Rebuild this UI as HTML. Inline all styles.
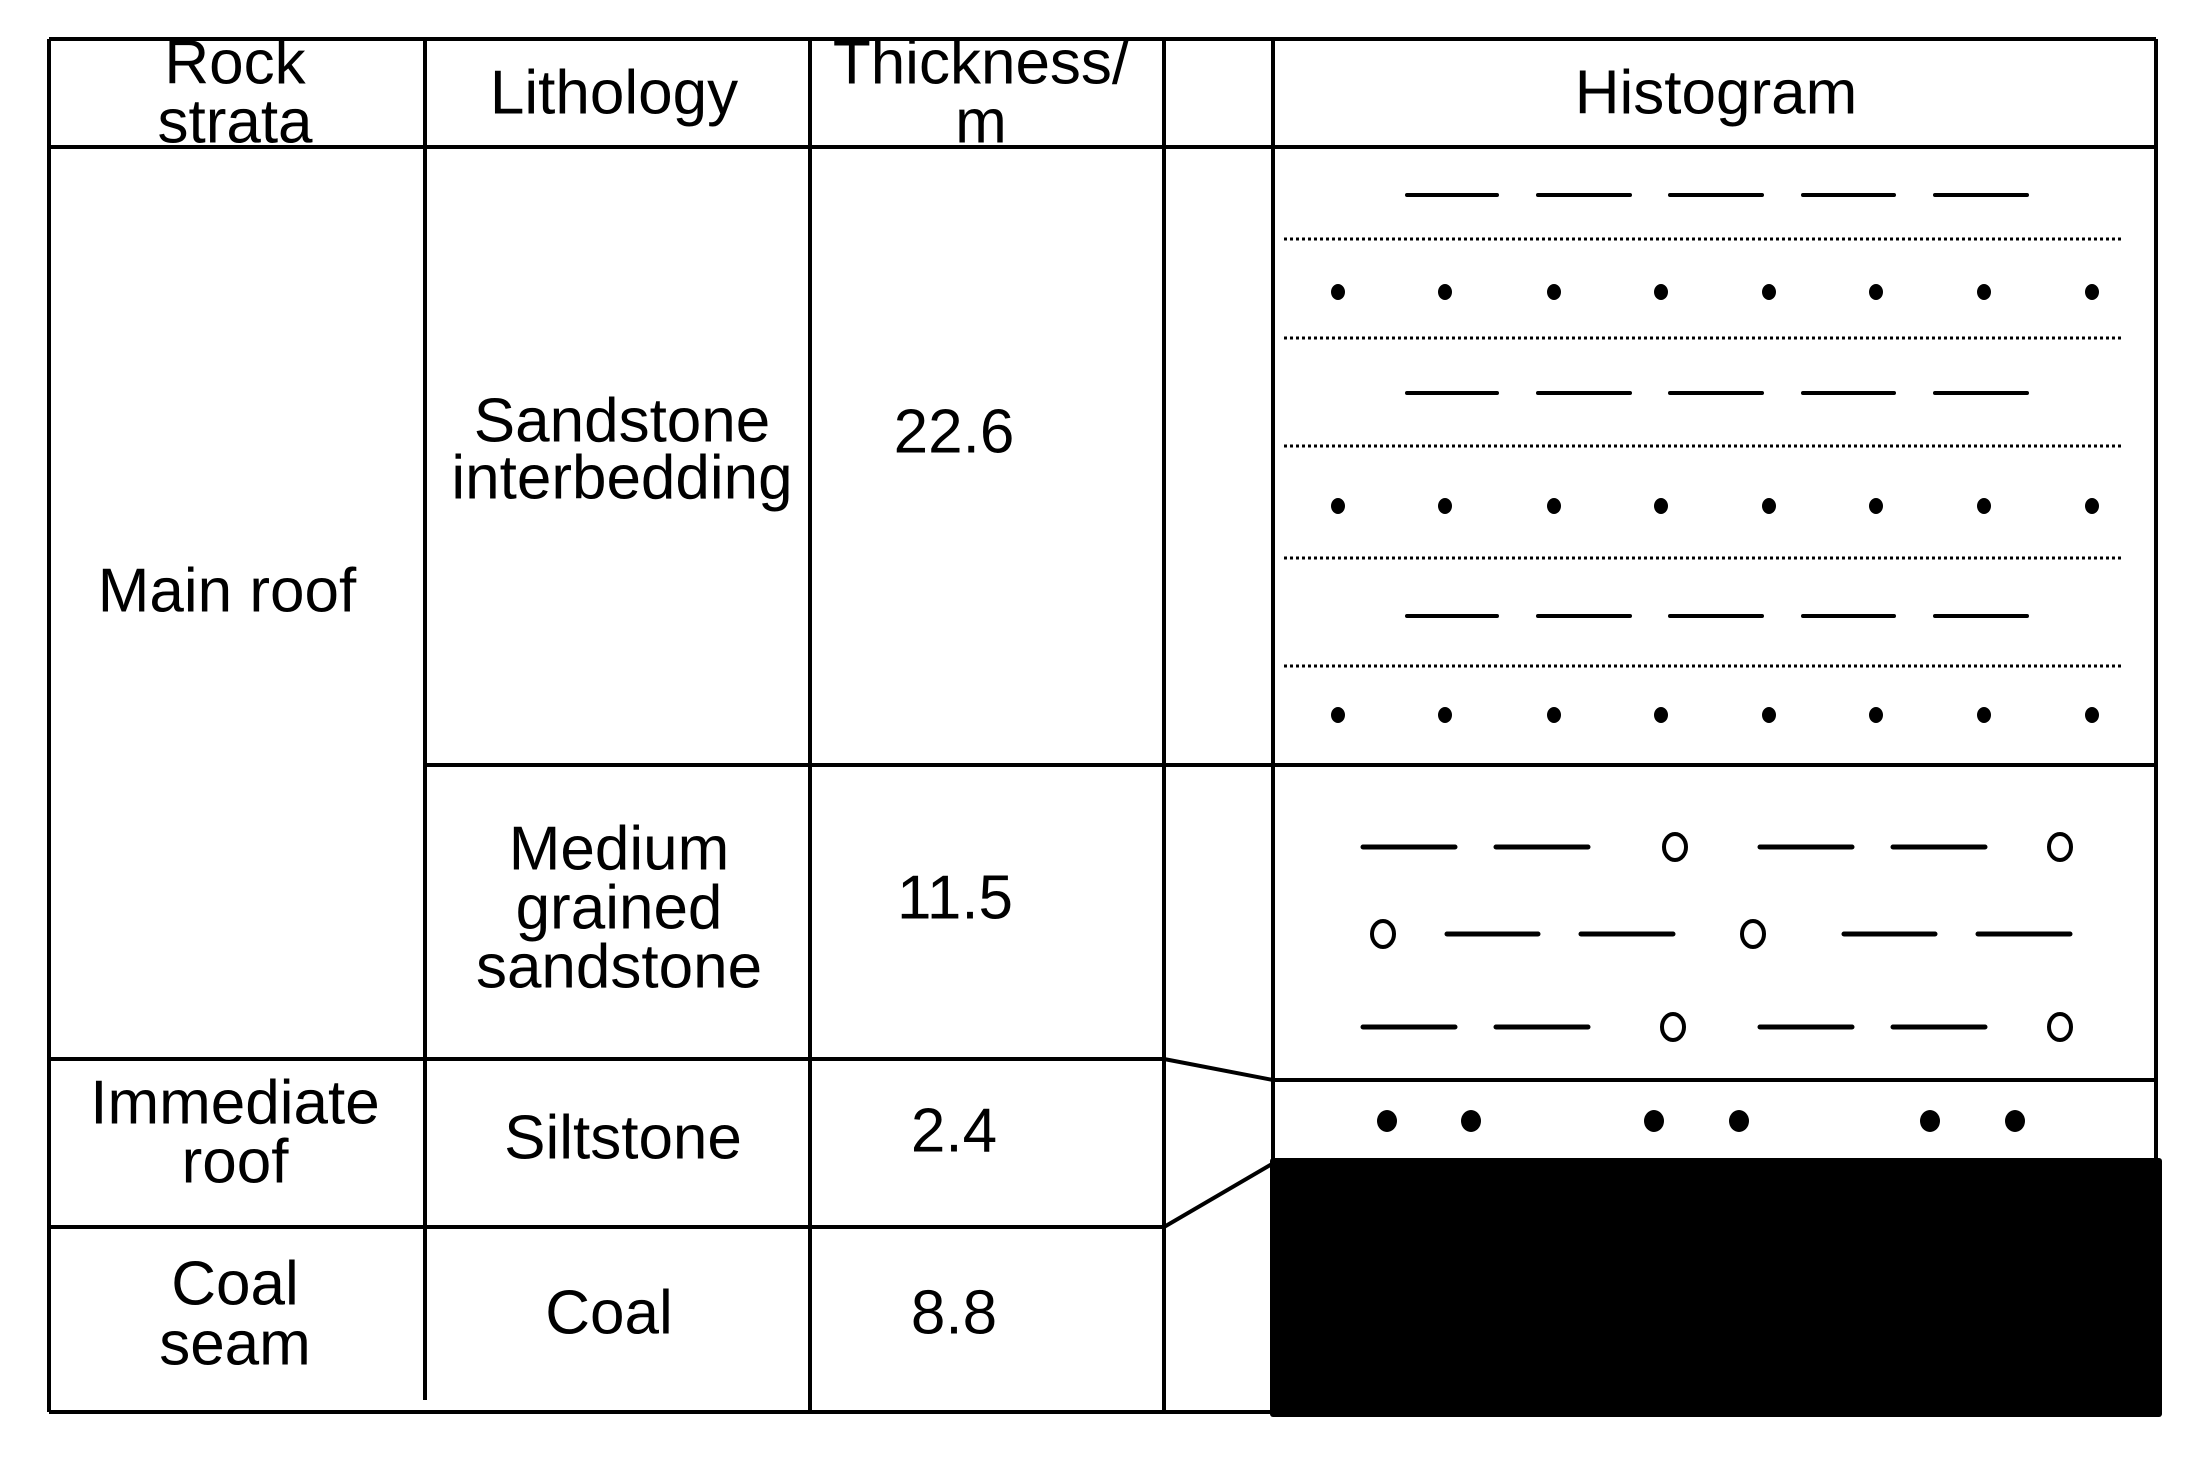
<!DOCTYPE html>
<html><head><meta charset="utf-8"><style>
html,body{margin:0;padding:0;background:#fff}
svg{display:block}
text{font-family:"Liberation Sans",Arial,sans-serif;font-size:62px;fill:#000;text-anchor:middle;dominant-baseline:central}
</style></head><body>
<svg width="2205" height="1459" viewBox="0 0 2205 1459">
<g stroke="#000" stroke-width="4" fill="none">
<line x1="49" y1="39" x2="2156" y2="39"/>
<line x1="49" y1="147" x2="2156" y2="147"/>
<line x1="425" y1="765" x2="2156" y2="765"/>
<line x1="49" y1="1059" x2="1164" y2="1059"/>
<line x1="1164" y1="1059" x2="1273" y2="1080"/>
<line x1="1273" y1="1080" x2="2156" y2="1080"/>
<line x1="49" y1="1227" x2="1164" y2="1227"/>
<line x1="1164" y1="1227" x2="1272" y2="1164"/>
<line x1="49" y1="1412" x2="1272" y2="1412"/>
<line x1="49" y1="39" x2="49" y2="1412"/>
<line x1="425" y1="39" x2="425" y2="1400"/>
<line x1="810" y1="39" x2="810" y2="1412"/>
<line x1="1164" y1="39" x2="1164" y2="1412"/>
<line x1="1273" y1="39" x2="1273" y2="1162"/>
<line x1="2156" y1="39" x2="2156" y2="1162"/>
</g>
<rect x="1270" y="1158" width="892" height="259" rx="3" fill="#000"/>
<g>
<text x="235" y="63">Rock</text><text x="235" y="122">strata</text>
<text x="614" y="93">Lithology</text>
<text x="981" y="63">Thickness/</text><text x="981" y="122">m</text>
<text x="1716" y="93">Histogram</text>
</g>
<g>
<text x="227" y="591">Main roof</text>
<text x="622" y="421">Sandstone</text><text x="622" y="478">interbedding</text>
<text x="954" y="432">22.6</text>
<text x="619" y="849">Medium</text><text x="619" y="908">grained</text><text x="619" y="967">sandstone</text>
<text x="955" y="898">11.5</text>
<text x="235" y="1103">Immediate</text><text x="235" y="1162">roof</text>
<text x="623" y="1138">Siltstone</text>
<text x="954" y="1131">2.4</text>
<text x="235" y="1284">Coal</text><text x="235" y="1344">seam</text>
<text x="609" y="1313">Coal</text>
<text x="954" y="1313">8.8</text>
</g>
<g id="pat"></g>
<script>
const dashRowsY=[195,393,616];
const dashXs=[[1407,1497],[1538,1630],[1670,1762],[1803,1894],[1935,2027]];
const dottedY=[239,338,446,558,666];
const dotRowsY=[292,506,715];
const dotXs=[1338,1445,1554,1661,1769,1876,1984,2092];
const medRows=[
 {y:847,dashes:[[1363,1455],[1496,1588],[1760,1852],[1893,1985]],circles:[1675,2060]},
 {y:934,dashes:[[1447,1538],[1581,1673],[1844,1935],[1978,2070]],circles:[1383,1753]},
 {y:1027,dashes:[[1363,1455],[1496,1588],[1760,1852],[1893,1985]],circles:[1673,2060]}];
const siltY=1121;
const siltXs=[1387,1471,1654,1739,1930,2015];
const NS='http://www.w3.org/2000/svg';
const g=document.getElementById('pat');
function mk(t,a){const e=document.createElementNS(NS,t);for(const k in a)e.setAttribute(k,a[k]);g.appendChild(e);return e;}
dashRowsY.forEach(y=>dashXs.forEach(d=>{
 const e=mk('line',{x1:d[0],y1:y,x2:d[1],y2:y,stroke:'#000','stroke-width':4,'stroke-linecap':'round'});
 
 
}));
dottedY.forEach(y=>{
 const e=mk('line',{x1:1284,y1:y,x2:2123,y2:y,stroke:'#000','stroke-width':3,'stroke-dasharray':'3 3'});
 
 
});
dotRowsY.forEach(y=>dotXs.forEach(x=>{
 const e=mk('ellipse',{cx:x,cy:y,rx:7,ry:8,fill:'#000'});
 
 
}));
medRows.forEach(r=>{
 r.dashes.forEach(d=>{
  const e=mk('line',{x1:d[0],y1:r.y,x2:d[1],y2:r.y,stroke:'#000','stroke-width':5,'stroke-linecap':'round'});
  
  
 });
 r.circles.forEach(x=>{
  const e=mk('ellipse',{cx:x,cy:r.y,rx:11,ry:13,fill:'none',stroke:'#000','stroke-width':4});
  
  
 });
});
siltXs.forEach(x=>{
 const e=mk('ellipse',{cx:x,cy:siltY,rx:10,ry:11,fill:'#000'});
 
 
});
</script>
</svg>
</body></html>
